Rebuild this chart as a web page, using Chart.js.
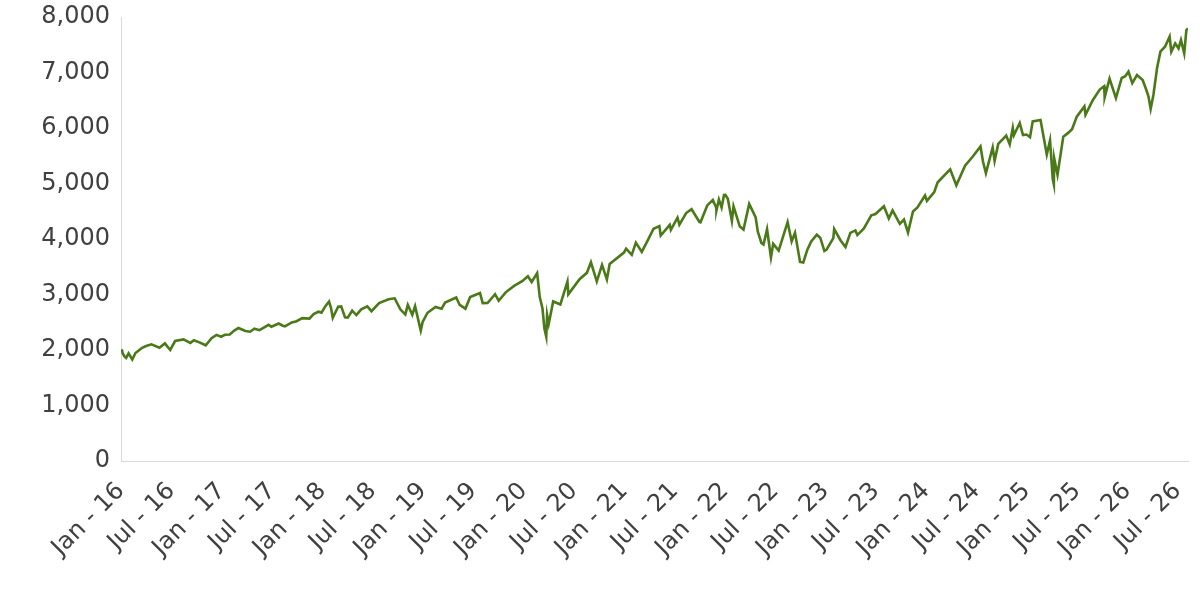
<!DOCTYPE html>
<html>
<head>
<meta charset="utf-8">
<title>Index</title>
<script src="https://cdn.jsdelivr.net/npm/chart.js@4.4.1/dist/chart.umd.min.js"></script>
<style>
  html, body { margin: 0; padding: 0; background: #fff; }
  #wrap { width: 1200px; height: 600px; }
</style>
</head>
<body>
<div id="wrap"><canvas id="line"></canvas></div>
<script>
// closing values
const dates = [
  '2016-01-04','2016-01-07','2016-01-13','2016-01-20','2016-01-29','2016-02-11','2016-02-22','2016-03-01',
  '2016-03-17','2016-04-01','2016-04-20','2016-05-19','2016-06-08','2016-06-27','2016-07-15','2016-08-15',
  '2016-09-09','2016-09-22','2016-10-14','2016-11-04','2016-11-25','2016-12-13','2016-12-30',
  '2017-01-13','2017-01-31','2017-02-15','2017-03-01','2017-03-27','2017-04-13','2017-04-28','2017-05-17',
  '2017-06-19','2017-06-29','2017-07-26','2017-08-10','2017-08-18','2017-09-12','2017-09-29','2017-10-20',
  '2017-11-15','2017-11-30','2017-12-18','2017-12-29',
  '2018-01-12','2018-01-26','2018-02-02','2018-02-08','2018-02-26','2018-03-09','2018-03-23','2018-04-02',
  '2018-04-18','2018-05-03','2018-05-21','2018-06-12','2018-06-27','2018-07-25','2018-08-29','2018-09-20',
  '2018-10-11','2018-10-29','2018-11-07','2018-11-23','2018-12-03','2018-12-24','2018-12-31',
  '2019-01-18','2019-02-15','2019-03-08','2019-03-21','2019-04-30','2019-05-13','2019-06-03','2019-06-20',
  '2019-07-26','2019-08-05','2019-08-23','2019-09-19','2019-10-02','2019-10-28','2019-11-27','2019-12-27',
  '2020-01-17','2020-01-31','2020-02-19','2020-02-28','2020-03-09','2020-03-16','2020-03-23','2020-03-26',
  '2020-04-01','2020-04-17','2020-05-13','2020-06-08','2020-06-11','2020-07-22','2020-08-18','2020-09-02',
  '2020-09-23','2020-10-12','2020-10-30','2020-11-09','2020-12-31',
  '2021-01-08','2021-01-29','2021-02-12','2021-03-04','2021-03-26','2021-04-16','2021-05-07','2021-05-12',
  '2021-06-14','2021-06-18','2021-07-12','2021-07-19','2021-08-13','2021-09-02','2021-09-30','2021-10-04',
  '2021-10-29','2021-11-18','2021-11-30','2021-12-01','2021-12-10','2021-12-20','2021-12-29',
  '2022-01-03','2022-01-12','2022-01-27','2022-02-02','2022-02-23','2022-03-08','2022-03-29','2022-04-21',
  '2022-04-29','2022-05-12','2022-05-20','2022-06-02','2022-06-16','2022-06-24','2022-07-14','2022-08-16',
  '2022-08-31','2022-09-12','2022-09-30','2022-10-12','2022-10-27','2022-11-10','2022-11-30','2022-12-13',
  '2022-12-28',
  '2023-01-05','2023-01-30','2023-02-02','2023-02-24','2023-03-13','2023-03-31','2023-04-18','2023-04-25',
  '2023-05-19','2023-06-15','2023-06-30','2023-07-31','2023-08-18','2023-09-01','2023-09-27','2023-10-12',
  '2023-10-27','2023-11-14','2023-11-30','2023-12-28',
  '2024-01-04','2024-01-31','2024-02-12','2024-03-28','2024-04-19','2024-05-21','2024-06-18','2024-07-16',
  '2024-07-25','2024-08-05','2024-08-30','2024-09-06','2024-09-19','2024-10-18','2024-10-31','2024-11-11',
  '2024-11-15','2024-12-06','2024-12-18','2024-12-31',
  '2025-01-13','2025-01-23','2025-02-19','2025-03-13','2025-03-25','2025-04-04','2025-04-08','2025-04-09',
  '2025-04-21','2025-05-12','2025-05-30','2025-06-13','2025-06-30','2025-07-28','2025-08-01','2025-08-28',
  '2025-09-22','2025-10-08','2025-10-10','2025-10-28','2025-11-20','2025-12-11','2025-12-24',
  '2026-01-05','2026-01-19','2026-02-05','2026-02-24','2026-03-09','2026-03-17','2026-03-25','2026-04-04',
  '2026-04-17','2026-04-29','2026-05-16','2026-06-02','2026-06-08','2026-06-22','2026-07-04','2026-07-13',
  '2026-07-25','2026-08-02','2026-08-08'
];

const closes = [
  2013,1943,1890,1859,1940,1829,1946,1978,
  2040,2073,2102,2040,2119,2001,2162,2190,
  2128,2177,2133,2085,2213,2272,2239,
  2275,2279,2350,2396,2342,2329,2384,2357,
  2453,2419,2477,2438,2426,2496,2519,2575,
  2565,2648,2690,2674,
  2786,2873,2762,2581,2780,2786,2588,2582,
  2708,2630,2733,2787,2699,2846,2914,2931,
  2728,2641,2814,2633,2790,2351,2507,
  2671,2776,2743,2855,2946,2812,2744,2954,
  3026,2845,2847,3006,2888,3039,3154,3240,
  3330,3226,3386,2954,2747,2386,2237,2630,
  2470,2875,2820,3232,3002,3276,3390,3580,
  3237,3534,3270,3550,3756,
  3825,3714,3934,3768,3975,4185,4232,4063,
  4255,4166,4384,4258,4468,4537,4308,4300,
  4605,4704,4567,4513,4712,4568,4793,
  4796,4726,4326,4589,4225,4170,4632,4394,
  4132,3930,3901,4176,3667,3912,3790,4305,
  3955,4110,3586,3577,3808,3956,4080,4019,
  3783,
  3808,4017,4179,3970,3855,4109,4154,4071,
  4192,4426,4450,4589,4370,4516,4274,4350,
  4117,4496,4568,4783,
  4688,4846,5022,5254,4967,5321,5487,5667,
  5400,5186,5648,5408,5714,5864,5705,6001,
  5870,6090,5872,5882,
  5836,6119,6144,5521,5777,5074,4982,5457,
  5158,5844,5912,5977,6205,6389,6238,6501,
  6693,6753,6553,6891,6538,6901,6932,
  7015,6810,6955,6866,6685,6565,6343,6595,
  7076,7375,7465,7646,7375,7525,7435,7585,
  7345,7765,7795
];

const tickLabels = [
  'Jan - 16','Jul - 16','Jan - 17','Jul - 17','Jan - 18','Jul - 18','Jan - 19','Jul - 19',
  'Jan - 20','Jul - 20','Jan - 21','Jul - 21','Jan - 22','Jul - 22','Jan - 23','Jul - 23',
  'Jan - 24','Jul - 24','Jan - 25','Jul - 25','Jan - 26','Jul - 26'
];

// months since Jan 2016, fractional
function monthOffset(s) {
  const [y, m, d] = s.split('-').map(Number);
  const days = new Date(y, m, 0).getDate();
  return (y - 2016) * 12 + (m - 1) + (d - 1) / days;
}

const points = dates.map((d, i) => ({ x: monthOffset(d), y: closes[i] }));
const tickMonths = tickLabels.map((_, i) => i * 6);

const ink = '#404040';
const font = { family: 'DejaVu Sans', size: 24 };

let ctx = document.getElementById('line').getContext('2d');
new Chart(ctx, {
  type: 'line',
  data: {
    datasets: [{
      data: points,
      borderColor: '#4a7a17',
      borderWidth: 2.6,
      pointRadius: 0,
      tension: 0,
      fill: false
    }]
  },
  options: {
    responsive: true,
    maintainAspectRatio: false,
    animation: false,
    layout: { padding: { top: 17, right: 12, left: 0, bottom: 0 } },
    plugins: { legend: { display: false }, tooltip: { enabled: false } },
    scales: {
      x: {
        type: 'linear',
        min: 0,
        max: points[points.length - 1].x,
        grid: { display: false, drawTicks: false },
        border: { display: true, color: '#d9d9d9', width: 1 },
        afterBuildTicks: (scale) => {
          scale.ticks = tickMonths.map(v => ({ value: v }));
        },
        afterFit: (scale) => {
          scale.height = 139;
          scale.paddingLeft = 0;
          scale.paddingRight = 0;
        },
        ticks: {
          autoSkip: false,
          maxRotation: 45,
          minRotation: 45,
          padding: 16,
          color: ink,
          font: font,
          callback: (v) => tickLabels[Math.round(v / 6)]
        }
      },
      y: {
        min: 0,
        max: 8000,
        grid: { display: false, drawTicks: false },
        border: { display: true, color: '#d9d9d9', width: 1 },
        afterFit: (scale) => {
          scale.width = 121;
          scale.paddingTop = 0;
          scale.paddingBottom = 0;
        },
        ticks: {
          stepSize: 1000,
          padding: 11,
          color: ink,
          font: font,
          callback: (v) => v.toLocaleString('en-US')
        }
      }
    }
  }
});
</script>
</body>
</html>
